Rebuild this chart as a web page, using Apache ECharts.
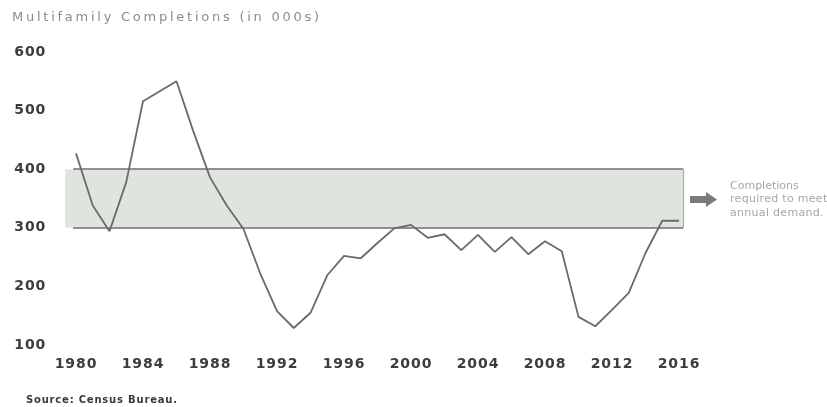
<!DOCTYPE html>
<html>
<head>
<meta charset="utf-8">
<script src="https://cdn.jsdelivr.net/npm/echarts@6/dist/echarts.min.js"></script>
<style>
html,body{margin:0;padding:0;background:#fff;}
#chart{width:827px;height:407px;}
</style>
</head>
<body>
<div id="chart"></div>
<script>
// ---- data ----
var years = [1980,1981,1982,1983,1984,1985,1986,1987,1988,1989,1990,1991,1992,1993,1994,1995,1996,1997,1998,1999,2000,2001,2002,2003,2004,2005,2006,2007,2008,2009,2010,2011,2012,2013,2014,2015,2016];
var completions = [427,338,294,378,516,533,550,465,386,338,298,222,158,129,155,219,252,248,274,299,305,283,289,262,288,259,284,255,277,260,148,132,160,189,257,312,312];
var yTicks = [100,200,300,400,500,600];
var xTicks = [1980,1984,1988,1992,1996,2000,2004,2008,2012,2016];
var demandLow = 300;
var demandHigh = 400;
var bandStartYear = 1979.35;
var bandEndYear = 2016.25;
var lineStartYear = 1979.83;
var titleText = 'Multifamily Completions (in 000s)';
var sourceText = 'Source: Census Bureau.';
var noteLines = ['Completions', 'required to meet', 'annual demand.'];

// letter spacing for the wide-tracked typography of the original
var spacing = {};
spacing[titleText] = '2.75px';
spacing[sourceText] = '0.8px';
spacing[noteLines[1]] = '0.3px';
xTicks.concat(yTicks).forEach(function (t) { spacing[String(t)] = '0.9px'; });
(function () {
  var proto = CanvasRenderingContext2D.prototype;
  var orig = proto.fillText;
  proto.fillText = function (t, x, y, w) {
    var ls = spacing[t];
    if (ls && 'letterSpacing' in this) {
      var prev = this.letterSpacing;
      this.letterSpacing = ls;
      if (w === undefined) orig.call(this, t, x, y); else orig.call(this, t, x, y, w);
      this.letterSpacing = prev;
    } else {
      if (w === undefined) orig.call(this, t, x, y); else orig.call(this, t, x, y, w);
    }
  };
})();

var seriesData = years.map(function (y, i) { return [y, completions[i]]; });

var chart = echarts.init(document.getElementById('chart'), null, {renderer: 'canvas'});
var labelFont = {fontFamily: 'DejaVu Sans', fontSize: 14, fontWeight: 'bold', color: '#3c3c3c'};

chart.setOption({
  animation: false,
  backgroundColor: '#ffffff',
  title: {
    text: titleText,
    left: 7, top: 6,
    textStyle: {fontFamily: 'DejaVu Sans', fontSize: 13, fontWeight: 'normal', color: '#8c8c8c'}
  },
  grid: {left: 59.25, right: 131.25, top: 52, bottom: 62, containLabel: false},
  xAxis: {
    type: 'value', min: 1979, max: 2017, interval: 1,
    axisLine: {show: false}, axisTick: {show: false}, splitLine: {show: false},
    axisLabel: Object.assign({
      margin: 12,
      showMinLabel: true, showMaxLabel: true,
      formatter: function (v) { return xTicks.indexOf(v) >= 0 ? String(v) : ''; }
    }, labelFont)
  },
  yAxis: {
    type: 'value', min: 100, max: 600, interval: 100,
    axisLine: {show: false}, axisTick: {show: false}, splitLine: {show: false},
    axisLabel: Object.assign({
      margin: 13,
      formatter: function (v) { return yTicks.indexOf(v) >= 0 ? String(v) : ''; }
    }, labelFont)
  },
  series: [{
    type: 'line',
    data: seriesData,
    showSymbol: false,
    symbol: 'none',
    lineStyle: {color: '#6a6a6a', width: 1.8},
    z: 5,
    markArea: {
      silent: true,
      itemStyle: {color: '#e0e4df'},
      data: [[{coord: [bandStartYear, demandHigh]}, {coord: [bandEndYear, demandLow]}]]
    },
    markLine: {
      silent: true,
      symbol: ['none', 'none'],
      label: {show: false},
      data: [
        [{coord: [lineStartYear, demandHigh], lineStyle: {color: '#6e6e6e', width: 1.5, type: 'solid'}},
         {coord: [bandEndYear, demandHigh]}],
        [{coord: [lineStartYear, demandLow], lineStyle: {color: '#6e6e6e', width: 1.5, type: 'solid'}},
         {coord: [bandEndYear, demandLow]}],
        [{coord: [bandEndYear, demandHigh], lineStyle: {color: '#a8a8a8', width: 1.2, type: 'solid'}},
         {coord: [bandEndYear, demandLow]}]
      ]
    }
  }],
  graphic: [
    {
      type: 'polygon',
      shape: {points: [[690,196],[706,196],[706,192],[717,199.5],[706,207],[706,203],[690,203]]},
      style: {fill: '#7a7a7a'}
    },
    {
      type: 'text', left: 730, top: 179,
      style: {text: noteLines.join('\n'), fontFamily: 'DejaVu Sans', fontSize: 11, lineHeight: 13.5, fill: '#a6a6a6'}
    },
    {
      type: 'text', left: 26, top: 395,
      style: {text: sourceText, fontFamily: 'DejaVu Sans', fontSize: 10, fontWeight: 'bold', fill: '#3a3a3a'}
    }
  ]
});
</script>
</body>
</html>
